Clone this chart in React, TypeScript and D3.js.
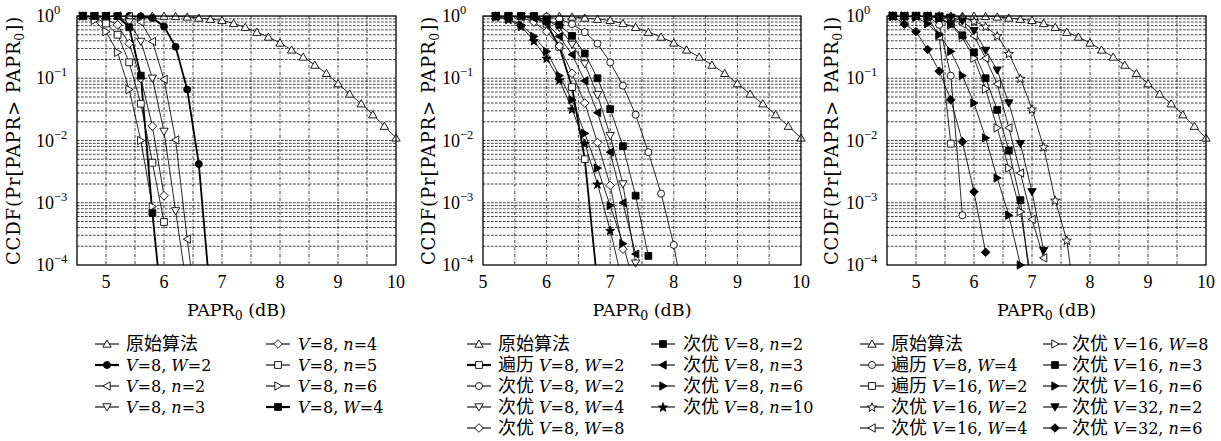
import React from 'react';
import * as d3 from 'd3';

const W = 1221, H = 441;
const TOP = 16, BOTTOM = 265;
const SERIF = '"DejaVu Serif", "Noto Sans CJK SC", serif';
const NUMF = '"Liberation Serif", serif';
const CJK = '"Noto Sans CJK SC", sans-serif';

// ---------- shared: original algorithm ----------
const ORIG_X = [4.6, 4.8, 5.0, 5.2, 5.4, 5.6, 5.8, 6.0, 6.2, 6.4, 6.6, 6.8, 7.0, 7.2, 7.4, 7.6, 7.8, 8.0, 8.2, 8.4, 8.6, 8.8, 9.0, 9.2, 9.4, 9.6, 9.8, 10.0];
const ORIG_Y = [1, 1, 1, 1, 1, 1, 1, 0.995, 0.985, 0.965, 0.93, 0.89, 0.85, 0.76, 0.66, 0.55, 0.46, 0.37, 0.285, 0.22, 0.163, 0.12, 0.082, 0.056, 0.039, 0.026, 0.017, 0.011];

// ---------- panel 1 ----------
const P1_W2_X = [4.6, 4.8, 5.0, 5.2, 5.4, 5.6, 5.8, 6.0, 6.2, 6.4, 6.6, 6.8];
const P1_W2_Y = [1, 1, 1, 1, 1, 0.99, 0.93, 0.68, 0.32, 0.066, 0.0042, 0.00003];
const P1_N2_X = [4.6, 4.8, 5.0, 5.2, 5.4, 5.6, 5.8, 6.0, 6.2, 6.4, 6.6];
const P1_N2_Y = [1, 1, 1, 1, 0.98, 0.8, 0.39, 0.096, 0.0102, 0.00026, 0.00001];
const P1_N3_X = [4.6, 4.8, 5.0, 5.2, 5.4, 5.6, 5.8, 6.0, 6.2, 6.4];
const P1_N3_Y = [1, 1, 1, 0.97, 0.8, 0.39, 0.1, 0.014, 0.00074, 0.00004];
const P1_N4_X = [4.6, 4.8, 5.0, 5.2, 5.4, 5.6, 5.8, 6.0];
const P1_N4_Y = [1, 0.98, 0.9, 0.72, 0.36, 0.1, 0.017, 0.0013];
const P1_N5_X = [4.6, 4.8, 5.0, 5.2, 5.4, 5.6, 5.8, 6.0];
const P1_N5_Y = [1, 0.95, 0.76, 0.5, 0.18, 0.039, 0.0044, 0.00049];
const P1_N6_X = [4.6, 4.8, 5.0, 5.2, 5.4, 5.6, 5.8];
const P1_N6_Y = [1, 0.85, 0.56, 0.26, 0.066, 0.01, 0.00087];
const P1_W4_X = [4.6, 4.8, 5.0, 5.2, 5.4, 5.6, 5.8, 6.0];
const P1_W4_Y = [1, 1, 1, 1, 0.66, 0.11, 0.00068, 0.00001];

// ---------- panel 2 ----------
const P2_EX_W2_X = [5.2, 5.4, 5.6, 5.8, 6.0, 6.2, 6.4, 6.6, 6.8];
const P2_EX_W2_Y = [1, 1, 1, 0.99, 0.75, 0.32, 0.072, 0.005, 0.00005];
const P2_W2_X = [5.2, 5.4, 5.6, 5.8, 6.0, 6.2, 6.4, 6.6, 6.8, 7.0, 7.2, 7.4, 7.6, 7.8, 8.0, 8.2];
const P2_W2_Y = [1, 1, 1, 1, 0.97, 0.9, 0.74, 0.55, 0.36, 0.18, 0.076, 0.026, 0.0065, 0.0014, 0.00021, 0.000015];
const P2_W4_X = [5.2, 5.4, 5.6, 5.8, 6.0, 6.2, 6.4, 6.6, 6.8, 7.0, 7.2, 7.4];
const P2_W4_Y = [1, 1, 0.99, 0.97, 0.88, 0.65, 0.35, 0.17, 0.054, 0.012, 0.002, 0.000107];
const P2_W8_X = [5.2, 5.4, 5.6, 5.8, 6.0, 6.2, 6.4, 6.6, 6.8, 7.0, 7.2];
const P2_W8_Y = [1, 0.99, 0.95, 0.8, 0.56, 0.33, 0.12, 0.04, 0.0093, 0.0019, 0.00018];
const P2_N2_X = [5.2, 5.4, 5.6, 5.8, 6.0, 6.2, 6.4, 6.6, 6.8, 7.0, 7.2, 7.4, 7.6];
const P2_N2_Y = [1, 1, 1, 1, 0.86, 0.72, 0.48, 0.25, 0.1, 0.032, 0.0081, 0.0013, 0.00014];
const P2_N3_X = [5.2, 5.4, 5.6, 5.8, 6.0, 6.2, 6.4, 6.6, 6.8, 7.0, 7.2, 7.4];
const P2_N3_Y = [1, 0.99, 0.98, 0.92, 0.75, 0.47, 0.24, 0.091, 0.028, 0.0065, 0.001, 0.00015];
const P2_N6_X = [5.2, 5.4, 5.6, 5.8, 6.0, 6.2, 6.4, 6.6, 6.8, 7.0, 7.2, 7.4];
const P2_N6_Y = [0.98, 0.9, 0.72, 0.47, 0.27, 0.11, 0.045, 0.013, 0.0036, 0.0009, 0.00022, 0.00004];
const P2_N10_X = [5.2, 5.4, 5.6, 5.8, 6.0, 6.2, 6.4, 6.6, 6.8, 7.0, 7.2];
const P2_N10_Y = [0.97, 0.88, 0.68, 0.4, 0.21, 0.094, 0.032, 0.009, 0.002, 0.00036, 0.00005];

// ---------- panel 3 ----------
const P3_EX_V8W4_X = [4.6, 4.8, 5.0, 5.2, 5.4, 5.6, 5.8];
const P3_EX_V8W4_Y = [1, 1, 1, 1, 0.72, 0.11, 0.00063];
const P3_EX_V16W2_X = [4.6, 4.8, 5.0, 5.2, 5.4, 5.6];
const P3_EX_V16W2_Y = [1, 1, 1, 0.97, 0.47, 0.0089];
const P3_V16W2_X = [4.6, 4.8, 5.0, 5.2, 5.4, 5.6, 5.8, 6.0, 6.2, 6.4, 6.6, 6.8, 7.0, 7.2, 7.4, 7.6, 7.8];
const P3_V16W2_Y = [1, 1, 1, 1, 1, 0.99, 0.95, 0.83, 0.68, 0.48, 0.25, 0.1, 0.032, 0.0079, 0.0011, 0.00025, 0.00001];
const P3_V16W4_X = [4.6, 4.8, 5.0, 5.2, 5.4, 5.6, 5.8, 6.0, 6.2, 6.4, 6.6, 6.8, 7.0, 7.2];
const P3_V16W4_Y = [1, 1, 1, 1, 0.98, 0.92, 0.75, 0.48, 0.21, 0.081, 0.016, 0.003, 0.00054, 0.00013];
const P3_V16W8_X = [4.6, 4.8, 5.0, 5.2, 5.4, 5.6, 5.8, 6.0, 6.2, 6.4, 6.6, 6.8, 7.0];
const P3_V16W8_Y = [1, 1, 1, 0.99, 0.93, 0.72, 0.45, 0.21, 0.067, 0.016, 0.0036, 0.00072, 0.00005];
const P3_V16N3_X = [4.6, 4.8, 5.0, 5.2, 5.4, 5.6, 5.8, 6.0, 6.2, 6.4, 6.6, 6.8, 7.0];
const P3_V16N3_Y = [1, 1, 1, 0.99, 0.93, 0.75, 0.49, 0.26, 0.1, 0.031, 0.0069, 0.0011, 0.000028];
const P3_V16N6_X = [4.6, 4.8, 5.0, 5.2, 5.4, 5.6, 5.8, 6.0, 6.2, 6.4, 6.6, 6.8];
const P3_V16N6_Y = [1, 0.99, 0.95, 0.75, 0.5, 0.27, 0.11, 0.04, 0.011, 0.0025, 0.00063, 0.0001];
const P3_V32N2_X = [4.6, 4.8, 5.0, 5.2, 5.4, 5.6, 5.8, 6.0, 6.2, 6.4, 6.6, 6.8, 7.0, 7.2];
const P3_V32N2_Y = [1, 1, 1, 1, 0.99, 0.95, 0.83, 0.58, 0.28, 0.135, 0.04, 0.0089, 0.0015, 0.00017];
const P3_V32N6_X = [4.6, 4.8, 5.0, 5.2, 5.4, 5.6, 5.8, 6.0, 6.2];
const P3_V32N6_Y = [1, 0.74, 0.56, 0.29, 0.13, 0.045, 0.0096, 0.0015, 0.00016];

// ---------- axes ----------
const X_TICKS = [5, 6, 7, 8, 9, 10];
const Y_TICKS = [1, 0.1, 0.01, 0.001, 0.0001];
const Y_TICK_EXP = ['0', '\u22121', '\u22122', '\u22123', '\u22124'];

type Marker = 'tu' | 'td' | 'tl' | 'tr' | 'sq' | 'ci' | 'di' | 'st';
interface Series { prefix: string; label: string; x: number[]; y: number[]; marker: Marker; filled: boolean; thick: boolean; }

const mk = (prefix: string, label: string, x: number[], y: number[], marker: Marker, filled = false, thick = false): Series =>
  ({ prefix, label, x, y, marker, filled, thick });

const PANEL1: Series[] = [
  mk('原始算法', '', ORIG_X, ORIG_Y, 'tu'),
  mk('', 'V=8, W=2', P1_W2_X, P1_W2_Y, 'ci', true, true),
  mk('', 'V=8, n=2', P1_N2_X, P1_N2_Y, 'tl'),
  mk('', 'V=8, n=3', P1_N3_X, P1_N3_Y, 'td'),
  mk('', 'V=8, n=4', P1_N4_X, P1_N4_Y, 'di'),
  mk('', 'V=8, n=5', P1_N5_X, P1_N5_Y, 'sq'),
  mk('', 'V=8, n=6', P1_N6_X, P1_N6_Y, 'tr'),
  mk('', 'V=8, W=4', P1_W4_X, P1_W4_Y, 'sq', true, true),
];
const PANEL2: Series[] = [
  mk('原始算法', '', ORIG_X, ORIG_Y, 'tu'),
  mk('遍历', 'V=8, W=2', P2_EX_W2_X, P2_EX_W2_Y, 'sq', false, true),
  mk('次优', 'V=8, W=2', P2_W2_X, P2_W2_Y, 'ci'),
  mk('次优', 'V=8, W=4', P2_W4_X, P2_W4_Y, 'td'),
  mk('次优', 'V=8, W=8', P2_W8_X, P2_W8_Y, 'di'),
  mk('次优', 'V=8, n=2', P2_N2_X, P2_N2_Y, 'sq', true),
  mk('次优', 'V=8, n=3', P2_N3_X, P2_N3_Y, 'tl', true),
  mk('次优', 'V=8, n=6', P2_N6_X, P2_N6_Y, 'tr', true),
  mk('次优', 'V=8, n=10', P2_N10_X, P2_N10_Y, 'st', true),
];
const PANEL3: Series[] = [
  mk('原始算法', '', ORIG_X, ORIG_Y, 'tu'),
  mk('遍历', 'V=8, W=4', P3_EX_V8W4_X, P3_EX_V8W4_Y, 'ci'),
  mk('遍历', 'V=16, W=2', P3_EX_V16W2_X, P3_EX_V16W2_Y, 'sq'),
  mk('次优', 'V=16, W=2', P3_V16W2_X, P3_V16W2_Y, 'st'),
  mk('次优', 'V=16, W=4', P3_V16W4_X, P3_V16W4_Y, 'tl'),
  mk('次优', 'V=16, W=8', P3_V16W8_X, P3_V16W8_Y, 'tr'),
  mk('次优', 'V=16, n=3', P3_V16N3_X, P3_V16N3_Y, 'sq', true),
  mk('次优', 'V=16, n=6', P3_V16N6_X, P3_V16N6_Y, 'tr', true),
  mk('次优', 'V=32, n=2', P3_V32N2_X, P3_V32N2_Y, 'td', true),
  mk('次优', 'V=32, n=6', P3_V32N6_X, P3_V32N6_Y, 'di', true),
];

function markerPath(m: Marker): string {
  const r = 4.8;
  const tri = (a: number) => {
    const pts = [0, 120, 240].map(d => {
      const t = ((d + a) * Math.PI) / 180;
      return [r * Math.sin(t), -r * Math.cos(t) + (a === 0 ? 0.8 : a === 180 ? -0.8 : 0)];
    });
    const shiftX = a === 90 ? -0.8 : a === 270 ? 0.8 : 0;
    return 'M' + pts.map(p => (p[0] + shiftX).toFixed(2) + ',' + p[1].toFixed(2)).join('L') + 'Z';
  };
  switch (m) {
    case 'tu': return tri(0);
    case 'td': return tri(180);
    case 'tl': return tri(270);
    case 'tr': return tri(90);
    case 'sq': return 'M-3.4,-3.4L3.4,-3.4L3.4,3.4L-3.4,3.4Z';
    case 'ci': return 'M3.5,0A3.5,3.5 0 1,1 -3.5,0A3.5,3.5 0 1,1 3.5,0Z';
    case 'di': return 'M0,-4.3L4.3,0L0,4.3L-4.3,0Z';
    case 'st': {
      const pts: string[] = [];
      for (let i = 0; i < 10; i++) {
        const rr = i % 2 === 0 ? 4.8 : 2.0;
        const t = (i * 36 * Math.PI) / 180;
        pts.push((rr * Math.sin(t)).toFixed(2) + ',' + (-rr * Math.cos(t) + 0.5).toFixed(2));
      }
      return 'M' + pts.join('L') + 'Z';
    }
  }
}

function MarkerShape({ s, x, y }: { s: Series; x: number; y: number }) {
  return (
    <path d={markerPath(s.marker)} transform={`translate(${x},${y})`}
      fill={s.filled ? '#000' : '#fff'} stroke="#000" strokeWidth={0.9} />
  );
}

function MathLabel({ text }: { text: string }) {
  const tokens = text.split(/([VWn](?==))/).filter(t => t.length > 0);
  return (
    <>
      {tokens.map((p, i) => (
        <tspan key={i} fontStyle={/^[VWn]$/.test(p) ? 'italic' : 'normal'}>{p}</tspan>
      ))}
    </>
  );
}

interface PanelProps {
  id: string; left: number; right: number; xMin: number; series: Series[];
  ylabelX: number; legendCols: { lineX: number; textX: number; items: number[] }[];
}

function Panel({ id, left, right, xMin, series, ylabelX, legendCols }: PanelProps) {
  const x = d3.scaleLinear().domain([xMin, 10]).range([left, right]);
  const y = d3.scaleLog().domain([1e-4, 1]).range([BOTTOM, TOP]);
  const line = d3.line<[number, number]>().x(d => x(d[0])).y(d => y(d[1]));

  const vGrid: number[] = [];
  for (let v = xMin + 0.5; v < 10 - 1e-9; v += 0.5) vGrid.push(v);
  const hGrid: number[] = [];
  for (let k = -4; k <= -1; k++) for (let m = 1; m <= 9; m++) {
    if (k === -4 && m === 1) continue;
    hGrid.push(m * Math.pow(10, k));
  }

  const rowY = (i: number) => 344 + 21 * i;

  return (
    <g>
      <defs>
        <clipPath id={`clip-${id}`}>
          <rect x={left} y={TOP} width={right - left} height={BOTTOM - TOP} />
        </clipPath>
      </defs>
      <rect x={left} y={TOP} width={right - left} height={BOTTOM - TOP} fill="#fff" />
      {hGrid.map((v, i) => (
        <line key={'h' + i} x1={left} x2={right} y1={y(v)} y2={y(v)} stroke="#000" strokeWidth={0.75} strokeDasharray="2.6,1.4" />
      ))}
      {vGrid.map((v, i) => (
        <line key={'v' + i} x1={x(v)} x2={x(v)} y1={TOP} y2={BOTTOM} stroke="#000" strokeWidth={0.75} strokeDasharray="3,1.5,1,1.5" />
      ))}
      <g clipPath={`url(#clip-${id})`}>
        {series.map((s, i) => {
          const pts = s.x.map((xv, j) => [xv, s.y[j]] as [number, number]).filter(p => p[0] >= xMin - 1e-9);
          return <path key={i} d={line(pts) || ''} fill="none" stroke="#000" strokeWidth={s.thick ? 1.8 : 0.85} />;
        })}
      </g>
      {series.map((s, i) => (
        <g key={'m' + i}>
          {s.x.map((xv, j) => {
            const yv = s.y[j];
            if (xv <= xMin + 1e-9 || yv < 0.9e-4) return null;
            return <MarkerShape key={j} s={s} x={x(xv)} y={y(yv)} />;
          })}
        </g>
      ))}
      <rect x={left} y={TOP} width={right - left} height={BOTTOM - TOP} fill="none" stroke="#000" strokeWidth={1.3} />
      {X_TICKS.map(t => (
        <text key={'xt' + t} x={x(t)} y={288} textAnchor="middle" fontSize={18} fontFamily={NUMF}>{t}</text>
      ))}
      {Y_TICKS.map((t, i) => (
        <text key={'yt' + i} x={left - 41} y={y(t) + 6} fontSize={18} fontFamily={NUMF}>
          10<tspan dy={-8} fontSize={12.5}>{Y_TICK_EXP[i]}</tspan>
        </text>
      ))}
      <text transform={`translate(${ylabelX},${(TOP + BOTTOM) / 2}) rotate(-90)`} textAnchor="middle" fontSize={18} fontFamily={SERIF} letterSpacing={0.9}>
        CCDF(Pr[PAPR&gt; PAPR<tspan dy={4} fontSize={12.5}>0</tspan><tspan dy={-4}>])</tspan>
      </text>
      <text x={(left + right) / 2} y={316} textAnchor="middle" fontSize={17.5} fontFamily={SERIF}>
        PAPR<tspan dy={4} fontSize={12.5}>0</tspan><tspan dy={-4}> (dB)</tspan>
      </text>
      {legendCols.map((col, ci) => (
        <g key={'lc' + ci}>
          {col.items.map((si, ri) => {
            const s = series[si];
            const cy = rowY(ri);
            const cjkW = s.prefix.length * 18;
            return (
              <g key={ri}>
                <line x1={col.lineX} x2={col.lineX + 24} y1={cy} y2={cy} stroke="#000" strokeWidth={s.thick ? 2.2 : 1.1} />
                <MarkerShape s={s} x={col.lineX + 12} y={cy} />
                {s.prefix && (
                  <text x={col.textX} y={cy + 6} fontSize={18} fontFamily={CJK}>{s.prefix}</text>
                )}
                {s.label && (
                  <text x={col.textX + (s.prefix ? cjkW + 5 : 0)} y={cy + 6} fontSize={16} fontFamily={SERIF}>
                    <MathLabel text={s.label} />
                  </text>
                )}
              </g>
            );
          })}
        </g>
      ))}
    </g>
  );
}

export default function App() {
  return (
    <svg width={W} height={H} style={{ position: 'absolute', left: 0, top: 0, background: '#fff' }}>
      <rect width={W} height={H} fill="#fff" />
      <Panel id="p1" left={77} right={396} xMin={4.5} series={PANEL1} ylabelX={20}
        legendCols={[{ lineX: 95, textX: 126, items: [0, 1, 2, 3] }, { lineX: 266, textX: 298, items: [4, 5, 6, 7] }]} />
      <Panel id="p2" left={483} right={801} xMin={5} series={PANEL2} ylabelX={435}
        legendCols={[{ lineX: 467, textX: 498, items: [0, 1, 2, 3, 4] }, { lineX: 651, textX: 683, items: [5, 6, 7, 8] }]} />
      <Panel id="p3" left={887} right={1206} xMin={4.5} series={PANEL3} ylabelX={838}
        legendCols={[{ lineX: 860, textX: 891, items: [0, 1, 2, 3, 4] }, { lineX: 1043, textX: 1072, items: [5, 6, 7, 8, 9] }]} />
    </svg>
  );
}
